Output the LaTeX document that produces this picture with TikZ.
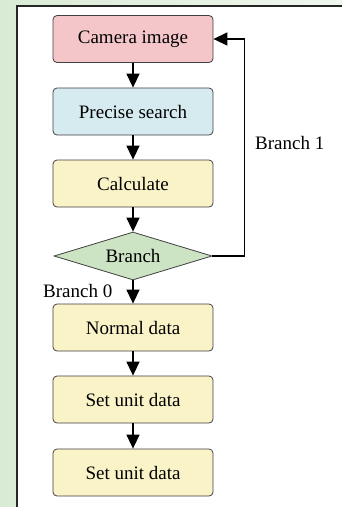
\documentclass[tikz,border=0pt]{standalone}
\usepackage{fontspec}
\setmainfont{Liberation Serif}
\usetikzlibrary{arrows.meta,
    shapes.geometric,
    positioning}
\definecolor{camfill}{HTML}{F4C6CA}
\definecolor{searchfill}{HTML}{D6EBF0}
\definecolor{calcfill}{HTML}{FAF3C8}
\definecolor{branchfill}{HTML}{CCE3C4}
\definecolor{bggreen}{HTML}{D9EBD5}
\tikzset{
  stepbox/.style={rectangle, rounded corners=4pt, draw=black!75, thick, minimum width=160pt, minimum height=47pt, inner sep=0pt, font=\fontsize{19}{21}\selectfont},
  decision/.style={diamond, aspect=3.3, draw=black!75, thick, fill=branchfill, minimum width=158pt, minimum height=48pt, inner sep=0pt, font=\fontsize{19}{21}\selectfont},
  flow/.style={-{Triangle[length=14pt,width=13pt]}, line width=1.4pt, draw=black},
  label/.style={inner sep=0pt, font=\fontsize{19}{21}\selectfont},
  }

\begin{document}
\begin{tikzpicture}[x=1pt, y=-1pt]
  \useasboundingbox (0,0) rectangle (342,507);
  % green page behind the white frame
  \shade[left color=bggreen, right color=bggreen!40!white] (0,0) rectangle (342,507);
  \fill[white] (17,5.5) rectangle (342,507);
  \draw[line width=2pt, black!85] (17,507) -- (17,5.5) -- (342,5.5);
  % the steps
  \node [stepbox, fill=camfill]    (camera)  at (133,39)    {Camera image};
  \node [stepbox, fill=searchfill] (search)  at (133,111.5) {Precise search};
  \node [stepbox, fill=calcfill]   (calc)    at (133,183.5) {Calculate};
  \node [decision]                 (branch)  at (133,256)   {Branch};
  \node [stepbox, fill=calcfill]   (normal)  at (133,327.5) {Normal data};
  \node [stepbox, fill=calcfill]   (unitone) at (133,399.5) {Set unit data};
  \node [stepbox, fill=calcfill]   (unittwo) at (133,472.5) {Set unit data};
  \node [label, anchor=west] (branchone)  at (255,143) {Branch 1};
  \node [label, anchor=west] (branchzero) at (43,291)  {Branch 0};
  % connectors
  \draw [flow] (camera) -- (search);
  \draw [flow] (search) -- (calc);
  \draw [flow] (calc) -- (branch);
  \draw [flow] (branch) -- (normal);
  \draw [flow] (normal) -- (unitone);
  \draw [flow] (unitone) -- (unittwo);
  \draw [flow] (branch.east) -- ++(32,0) |- (camera.east);
\end{tikzpicture}
\end{document}
